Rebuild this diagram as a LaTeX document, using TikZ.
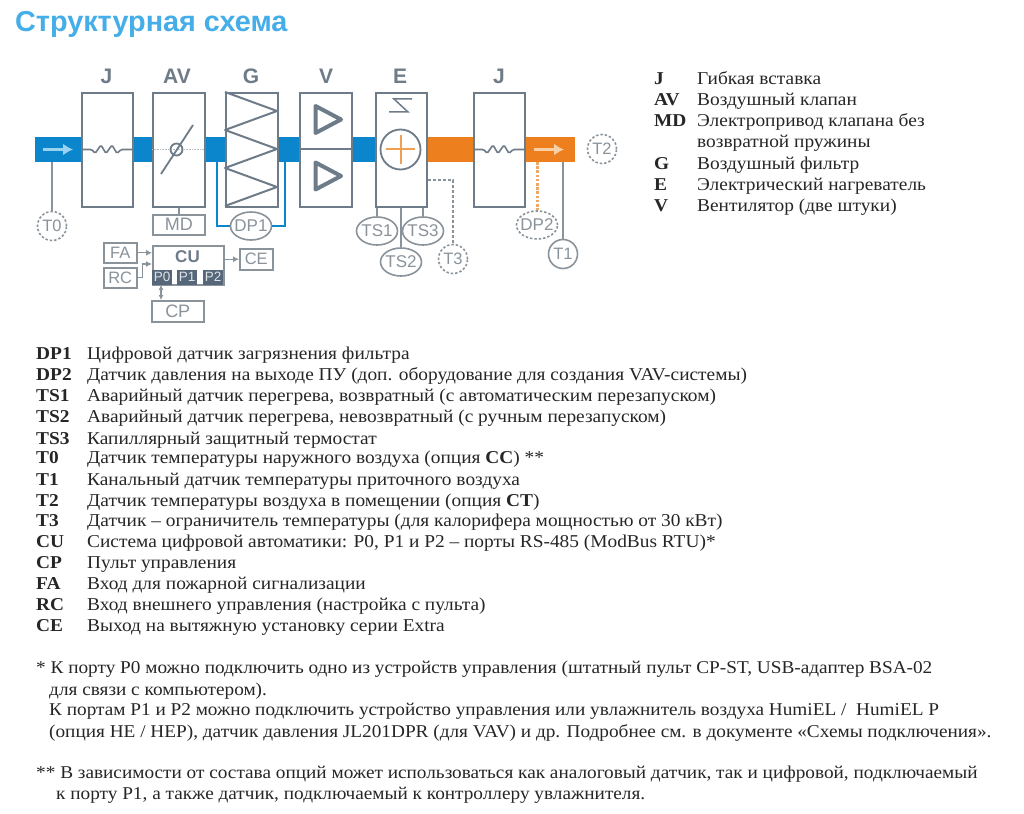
\documentclass[tikz,border=0pt]{standalone}
\usepackage{fontspec}
\setmainfont[FakeStretch=1.07]{Liberation Serif}
\setsansfont{Liberation Sans}
\usetikzlibrary{arrows.meta,shapes.geometric}
\definecolor{ln}{HTML}{6E7B88}
\definecolor{lt}{HTML}{8A929A}
\definecolor{ductb}{HTML}{0B86CC}
\definecolor{ducto}{HTML}{EE7F1E}
\definecolor{arrb}{HTML}{9AD2F0}
\definecolor{arro}{HTML}{F9CFA6}
\definecolor{dporange}{HTML}{EFA766}
\definecolor{crossc}{HTML}{F0A055}
\definecolor{titleb}{HTML}{45AEE8}
\definecolor{port}{HTML}{56677A}
\definecolor{porttxt}{HTML}{DDE2E7}
\definecolor{txt}{HTML}{262626}
\tikzset{
 unitbox/.style={draw=ln,line width=2pt,fill=white,inner sep=0pt,anchor=north west},
 minibox/.style={draw=lt,line width=1.5pt,fill=white,inner sep=0pt,anchor=north west,font=\sffamily\fontsize{18}{18}\selectfont,text=lt},
 miniboxs/.style={minibox,font=\sffamily\fontsize{16.5}{16.5}\selectfont},
 head/.style={font=\sffamily\bfseries\fontsize{21}{21}\selectfont,text=ln},
 sens/.style={draw=lt,line width=1.6pt,fill=white,circle,minimum size=29pt,inner sep=0pt,font=\sffamily\fontsize{16.5}{16.5}\selectfont,text=lt},
 sensd/.style={sens,dash pattern=on 2.4pt off 2pt},
 oval/.style={draw=lt,line width=1.6pt,fill=white,ellipse,minimum width=41pt,minimum height=28pt,inner xsep=-4pt,inner ysep=0pt,font=\sffamily\fontsize{17}{17}\selectfont,text=lt},
 ovald/.style={oval,dash pattern=on 2.4pt off 2pt},
 conn/.style={draw=lt,line width=1.6pt},
 sm/.style={-{Latex[length=6pt,width=6pt]},draw=lt,line width=1.2pt},
 portbox/.style={fill=port,text=porttxt,inner sep=0pt,anchor=north west,minimum height=15pt,font=\sffamily\fontsize{13.5}{13.5}\selectfont},
 key/.style={anchor=base west,inner sep=0pt,font=\bfseries\fontsize{18.1}{18.1}\selectfont,text=txt},
 val/.style={anchor=base west,inner sep=0pt,font=\fontsize{18.1}{18.1}\selectfont,text=txt},
 note/.style={anchor=base west,inner sep=0pt,font=\fontsize{18}{18}\selectfont,text=txt},
}
\newcommand{\unitb}[5]{\node[unitbox,minimum width=#4pt,minimum height=#5pt] (#1) at (#2,#3) {};}
\newcommand{\spring}[3]{\draw[ln,line width=1.6pt,rounded corners=1.5pt] (#1,#3) -- ++(11,0) -- ++(3,4) -- ++(6,-8.5) -- ++(5,8.5) -- ++(6,-8.5) -- ++(5,8.5) -- ++(4,-4) -- (#2,#3);}
\newcommand{\legr}[4]{\node[key] (kr#1) at (654,#4) {#2};\node[val] (vr#1) at (697,#4) {#3};}
\newcommand{\legm}[4]{\node[key] (km#1) at (36,#4) {#2};\node[val] (vm#1) at (87,#4) {#3};}
\begin{document}
\begin{tikzpicture}[x=1pt,y=-1pt]
\useasboundingbox (0,0) rectangle (1024,813);
\fill[white] (0,0) rectangle (1024,813);
\node[anchor=base west,inner sep=0pt,font=\sffamily\bfseries\fontsize{28.8}{28.8}\selectfont,text=titleb] (title) at (15,31.5) {Структурная схема};
% ducts
\fill[ductb] (35,137) rectangle (375,162);
\fill[ducto] (426,137) rectangle (575,162);
\coordinate (duA) at (52,162);
\coordinate (duB) at (217,162);
\coordinate (duC) at (285,162);
\coordinate (duD) at (563,162);
\coordinate (duE) at (537,162);
% boxes
\unitb{j1}{81}{92}{51}{114}
\unitb{av}{152}{92}{52}{114}
\unitb{g}{225}{92}{52}{114}
\unitb{v}{299}{92}{52}{114}
\unitb{e}{375}{92}{51}{114}
\unitb{j2}{473}{92}{51}{114}
\node[head] (hj1) at (106.5,76) {J};
\node[head] (hav) at (177,76) {AV};
\node[head] (hg) at (251,76) {G};
\node[head] (hv) at (326,76) {V};
\node[head] (he) at (400,76) {E};
\node[head] (hj2) at (499,76) {J};
% inlet / outlet arrows
\draw[-{Latex[length=10pt,width=12pt]},line width=3.2pt,arrb] (43,149.5) -- (73,149.5);
\draw[-{Latex[length=10pt,width=12pt]},line width=3.2pt,arro] (534,149.5) -- (564,149.5);
% springs
\spring{81}{132}{149.5}
\spring{473}{524}{149.5}
% damper
\draw[lt!60!white,densely dotted,line width=.6pt] (152,149.5) -- (204,149.5);
\draw[ln,line width=1.8pt] (161,174) -- (193,125);
\draw[ln,line width=1.8pt] (176.5,149.5) circle (6);
% filter
\draw[ln,line width=2pt,line join=round] (225,92) -- (277,111) -- (225,130) -- (277,149) -- (225,168) -- (277,187) -- (225,206);
% fans
\draw[ln,line width=1.5pt] (299,149) -- (351,149);
\draw[ln,line width=4pt,line join=round] (315.5,106) -- (341,119.5) -- (315.5,133) -- cycle;
\draw[ln,line width=4pt,line join=round] (315.5,162.5) -- (341,176) -- (315.5,189.5) -- cycle;
% heater
\draw[ln,line width=1.5pt] (412,99) -- (394,99) -- (408,112) -- (389,112);
\node[draw=ln,line width=1.8pt,circle,minimum size=40pt,inner sep=0pt] (hc) at (400.5,149.5) {};
\draw[crossc,line width=2pt] (386,149.5) -- (415,149.5) (400.5,135) -- (400.5,164);
% T sensors
\node[sensd] (t0) at (52,226) {T0};
\node[sensd] (t2) at (602,149) {T2};
\node[sensd] (t3) at (453,259) {T3};
\node[sens] (t1) at (563,254) {T1};
\draw[conn] (duA) -- (t0);
\draw[conn] (duD) -- (t1);
% DP
\node[oval] (dp1) at (251,226) {DP1};
\draw[ductb,line width=2pt] (duB) |- (dp1);
\draw[ductb,line width=2pt] (duC) |- (dp1);
\node[ovald] (dp2) at (537,225) {DP2};
\draw[dporange,line width=3pt,dash pattern=on 2.6pt off 1.6pt] (duE) -- (dp2);
% TS
\node[oval] (ts2) at (401,262) {TS2};
\node[oval] (ts1) at (377,231) {TS1};
\node[oval] (ts3) at (423,231) {TS3};
\draw[conn] (ts1.north) -- (ts1.north |- e.south);
\draw[conn] (ts3.north) -- (ts3.north |- e.south);
\draw[conn] (ts2.north) -- (ts2.north |- e.south);
\draw[lt,line width=1.5pt,dash pattern=on 3pt off 2pt] (e.east |- 0,180) -- (453,180) -- (t3);
% control
\node[minibox,minimum width=52pt,minimum height=20pt] (md) at (152,214) {MD};
\draw[conn] (av.south -| md) -- (md);
\node[miniboxs,minimum width=33pt,minimum height=20pt] (fa) at (103,242) {FA};
\node[miniboxs,minimum width=33pt,minimum height=20pt] (rc) at (103,267) {RC};
\node[minibox,minimum width=71pt,minimum height=39pt] (cu) at (152,245) {};
\node[head,font=\sffamily\bfseries\fontsize{17}{17}\selectfont] (culab) at (187.5,257) {CU};
\node[miniboxs,minimum width=33pt,minimum height=21pt] (ce) at (239,248) {CE};
\node[minibox,minimum width=52pt,minimum height=21pt] (cp) at (151,300) {CP};
\node[portbox,minimum width=20pt] (p0) at (152,269.5) {P0};
\node[portbox,minimum width=20pt] (p1) at (177,269.5) {P1};
\node[portbox,minimum width=20pt] (p2) at (203,269.5) {P2};
\draw[sm] (fa.east) -- (cu.west |- fa.east);
\draw[sm] (rc.east) -- ++(5,0) |- (cu.west |- 0,264);
\draw[sm] (ce.west -| cu.east) -- (ce.west);
\draw[draw=lt,line width=1.2pt,{Latex[length=5pt,width=5pt]}-{Latex[length=5pt,width=5pt]}] (p0.south -| 161,0) -- (cp.north -| 161,0);
% right legend
\legr{a}{J}{Гибкая вставка}{85}
\legr{b}{AV}{Воздушный клапан}{106}
\legr{c}{MD}{Электропривод клапана без}{127}
\legr{d}{}{возвратной пружины}{148}
\legr{e}{G}{Воздушный фильтр}{169}
\legr{f}{E}{Электрический нагреватель}{190}
\legr{g}{V}{Вентилятор (две штуки)}{211}
% main legend
\legm{a}{DP1}{Цифровой датчик загрязнения фильтра}{359}
\legm{b}{DP2}{Датчик давления на выходе ПУ (доп. оборудование для создания VAV-системы)}{380}
\legm{c}{TS1}{Аварийный датчик перегрева, возвратный (с автоматическим перезапуском)}{401}
\legm{d}{TS2}{Аварийный датчик перегрева, невозвратный (с ручным перезапуском)}{422.5}
\legm{e}{TS3}{Капиллярный защитный термостат}{444}
\legm{f}{T0}{Датчик температуры наружного воздуха (опция \textbf{CC}) **}{463}
\legm{g}{T1}{Канальный датчик температуры приточного воздуха}{485}
\legm{h}{T2}{Датчик температуры воздуха в помещении (опция \textbf{CT})}{506}
\legm{i}{T3}{Датчик – ограничитель температуры (для калорифера мощностью от 30 кВт)}{526.5}
\legm{j}{CU}{Система цифровой автоматики: P0, P1 и P2 – порты RS-485 (ModBus RTU)*}{547}
\legm{k}{CP}{Пульт управления}{568.5}
\legm{l}{FA}{Вход для пожарной сигнализации}{589.5}
\legm{m}{RC}{Вход внешнего управления (настройка с пульта)}{610.5}
\legm{n}{CE}{Выход на вытяжную установку серии Extra}{631.5}
% notes
\node[note] (n1) at (36,673) {* К порту P0 можно подключить одно из устройств управления (штатный пульт CP-ST, USB-адаптер BSA-02};
\node[note] (n2) at (49,695) {для связи с компьютером).};
\node[note] (n3) at (49,715) {К портам P1 и P2 можно подключить устройство управления или увлажнитель воздуха HumiEL /~ HumiEL P};
\node[note] (n4) at (49,737) {(опция HE / HEP), датчик давления JL201DPR (для VAV) и др. Подробнее см. в документе «Схемы подключения».};
\node[note] (n5) at (36,778) {** В зависимости от состава опций может использоваться как аналоговый датчик, так и цифровой, подключаемый};
\node[note] (n6) at (56,799) {к порту P1, а также датчик, подключаемый к контроллеру увлажнителя.};
\end{tikzpicture}
\end{document}
